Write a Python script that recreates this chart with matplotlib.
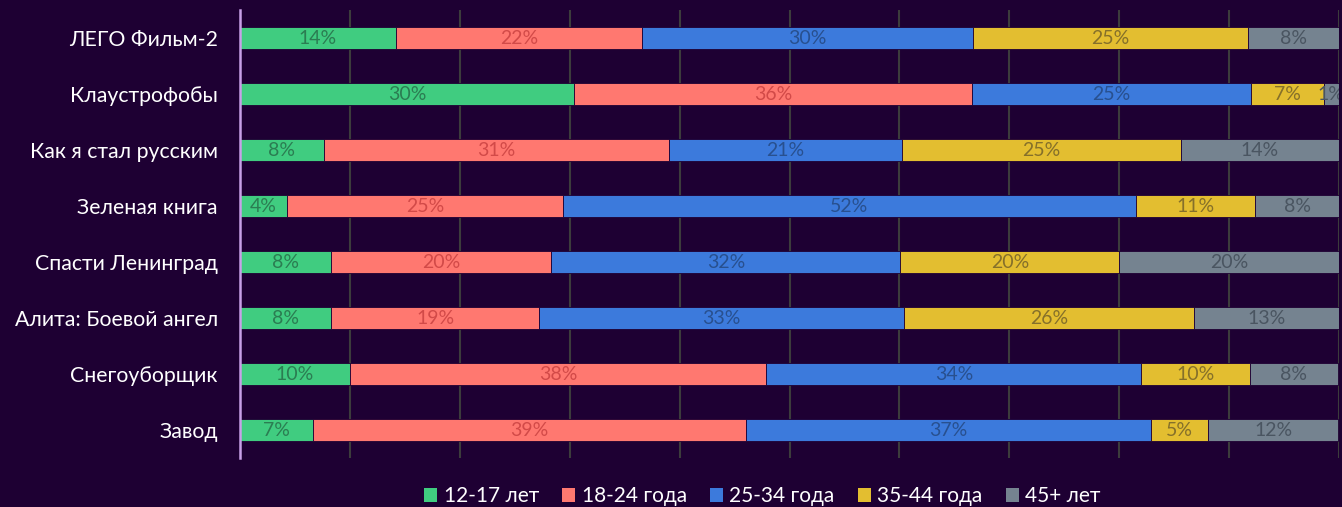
import matplotlib
matplotlib.use("Agg")
import matplotlib.pyplot as plt
import numpy as np

films = ["ЛЕГО Фильм-2", "Клаустрофобы", "Как я стал русским", "Зеленая книга",
         "Спасти Ленинград", "Алита: Боевой ангел", "Снегоуборщик", "Завод"]
groups = ["12-17 лет", "18-24 года", "25-34 года", "35-44 года", "45+ лет"]
s_12_17 = [14.2, 30.4, 7.6, 4.3, 8.3, 8.3, 10.0, 6.6]
s_18_24 = [22.4, 36.2, 31.4, 25.1, 20.0, 18.9, 37.9, 39.4]
s_25_34 = [30.1, 25.4, 21.2, 52.1, 31.8, 33.2, 34.1, 36.9]
s_35_44 = [25.0, 6.6, 25.4, 10.9, 19.9, 26.4, 9.9, 5.2]
s_45 = [8.3, 1.4, 14.4, 7.6, 20.0, 13.2, 8.0, 11.8]
series = [s_12_17, s_18_24, s_25_34, s_35_44, s_45]

colors = ["#40cc80", "#ff7870", "#3c7adc", "#e3be30", "#758390"]
label_colors = ["#2b7d52", "#d24a48", "#28508f", "#85702a", "#4a5561"]
bg = "#1e0033"

plt.rcParams['font.family'] = ['Lato', 'DejaVu Sans']

fig = plt.figure(figsize=(13.42, 5.07), dpi=100, facecolor=bg)
ax = fig.add_axes([240/1342, 1 - 458/507, 1099/1342, 448/507])
ax.set_facecolor(bg)

y = np.arange(len(films))
left = np.zeros(len(films))
for vals, c, lc, g in zip(series, colors, label_colors, groups):
    v = np.array(vals) / 100.0
    ax.barh(y, v, left=left, height=0.39, color=c, edgecolor=bg,
            linewidth=0.6, label=g, zorder=3)
    for yi, l, w, raw in zip(y, left, v, vals):
        ax.text(l + w / 2, yi, f"{round(raw)}%", ha="center", va="center",
                color=lc, fontsize=14, zorder=4, clip_on=True)
    left = left + v

ax.set_xlim(0, 1)
ax.set_ylim(len(films) - 0.5, -0.5)
ax.set_xticks(np.arange(0, 1.01, 0.1))
ax.xaxis.grid(True, color="#3c3c3c", linewidth=1.5, zorder=0)
ax.tick_params(axis="x", length=0, labelbottom=False)
ax.tick_params(axis="y", length=0, colors="white", labelsize=15.3, pad=16)
ax.set_yticks(y)
ax.set_yticklabels(films, color="white")
for s in ["top", "right", "bottom"]:
    ax.spines[s].set_visible(False)
ax.spines["left"].set_color("#c8a0e8")
ax.spines["left"].set_linewidth(1.8)
ax.spines["left"].set_zorder(5)

leg = fig.legend(loc="lower center", bbox_to_anchor=(0.568, -0.035), ncol=5,
                 frameon=False, fontsize=15, handlelength=0.65, handleheight=0.65,
                 handletextpad=0.3, columnspacing=1.1, labelcolor="white")
for h in leg.legend_handles:
    h.set_edgecolor("none")

fig.savefig("out.png", dpi=100, facecolor=bg)
